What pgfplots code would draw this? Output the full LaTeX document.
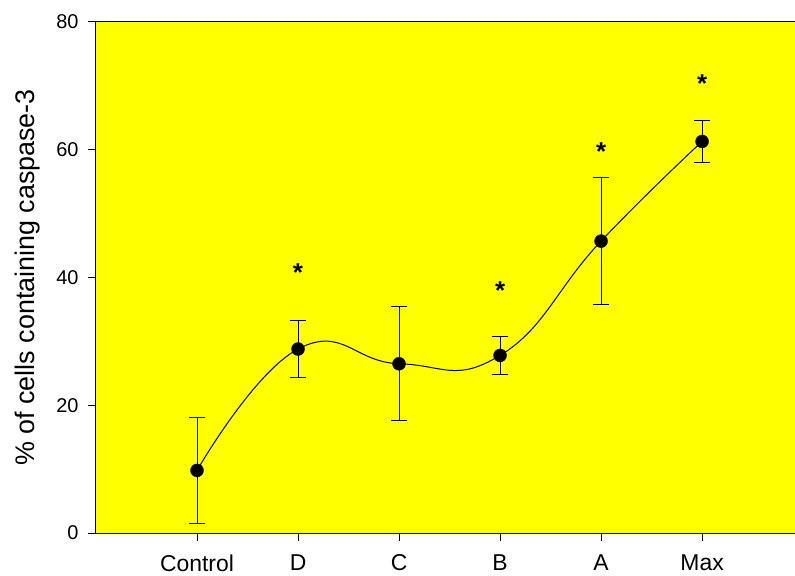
\documentclass[border=0pt]{standalone}
\usepackage{pgfplots}
\pgfplotsset{compat=1.18}
\usepackage{fontspec}
\setmainfont{Liberation Sans}
\definecolor{bgyellow}{HTML}{FFFF00}
\begin{document}
\begin{tikzpicture}
\begin{axis}[
  at={(0,0)}, anchor=south west,
  width=699bp, height=511bp, scale only axis,
  xmin=0, xmax=6.92, ymin=0, ymax=80,
  axis background/.style={fill=bgyellow},
  axis lines=left, axis line style={-, line width=1bp, black},
  xtick={1,2,3,4,5,6}, xticklabels={Control,D,C,B,A,Max},
  ytick={0,20,40,60,80},
  tick align=outside, major tick length=8bp,
  tick style={black, line width=1bp},
  xticklabel style={font=\fontsize{23}{27}\selectfont, yshift=-10bp},
  yticklabel style={font=\fontsize{20}{24}\selectfont, xshift=-6bp},
  ylabel={\% of cells containing caspase-3},
  ylabel style={font=\fontsize{27}{31}\selectfont},
  ylabel shift=9bp,
  /pgf/number format/assume math mode=true,
  clip=false,
]
\draw[line width=1bp] (rel axis cs:0,1) -- (rel axis cs:1,1);
% fitted smooth curve through means
\addplot[black, line width=1bp, smooth, tension=0.8, mark=none] coordinates {
  (1,9.8) (2,28.8) (3,26.5) (4,27.8) (5,45.7) (6,61.3)
};
% means with error bars
\addplot[black, only marks, mark=*, mark size=6.5bp,
  error bars/.cd, y dir=both, y explicit,
  error bar style={line width=1bp, black},
  error mark options={rotate=90, mark size=8bp, line width=1bp, black}]
  coordinates {
  (1,9.8) +- (0,8.3)
  (2,28.8) +- (0,4.4)
  (3,26.5) +- (0,8.9)
  (4,27.8) +- (0,3.0)
  (5,45.7) +- (0,9.9)
  (6,61.3) +- (0,3.3)
};
% significance stars
\addplot[draw=none, mark=none,
  nodes near coords={\bfseries *},
  every node near coord/.append style={font=\fontsize{26}{30}\selectfont, anchor=center, yshift=-3bp, inner sep=0pt}]
  coordinates {
  (2,41.2) (4,38.4) (5,60.2) (6,70.8)
};
\end{axis}
\pgfresetboundingbox
\path[use as bounding box] (-96bp,-43bp) rectangle (699bp,533bp);
\end{tikzpicture}
\end{document}
